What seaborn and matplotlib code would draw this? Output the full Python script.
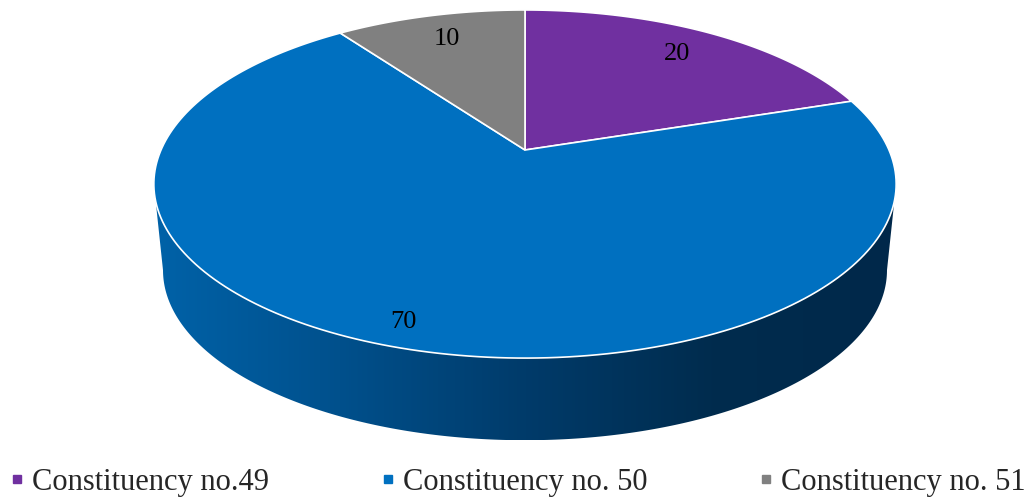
import numpy as np
import matplotlib
matplotlib.use("Agg")
import matplotlib.pyplot as plt
from matplotlib.patches import Polygon
from matplotlib.lines import Line2D
from matplotlib.colors import LinearSegmentedColormap
import seaborn as sns

# data
labels = ["Constituency no.49", "Constituency no. 50", "Constituency no. 51"]
values = [20, 70, 10]
colors = ["#7030A0", "#0070C0", "#808080"]

sns.set_style("white")
plt.rcParams["font.family"] = ["Liberation Serif", "DejaVu Serif"]

# 3d-ish pie geometry (pixel space)
CX, CY, A, B, K = 525, 150, 364, 167.4, 0.1955      # top face
CYb, Ab, Bb = 237, 355, 163.5                       # bottom face


def proj(X, Y, bottom=False):
    w = 1 + K * Y
    if bottom:
        return CX + Ab * X / w, CYb - Bb * Y / w
    return CX + A * X / w, CY - B * Y / w


fig = plt.figure(figsize=(10.35, 4.99), dpi=100)
ax = fig.add_axes([0, 0, 1, 1])

# side wall (front part), blue gradient
t0 = np.pi + np.arcsin(K)
t1 = 2 * np.pi - np.arcsin(K)
t = np.linspace(t0, t1, 300)
xt, yt = proj(np.cos(t), np.sin(t))
xb, yb = proj(np.cos(t), np.sin(t), bottom=True)
side = np.vstack([np.column_stack([xt, yt]), np.column_stack([xb, yb])[::-1]])
side_patch = Polygon(side, closed=True, facecolor="none", edgecolor="none")
ax.add_patch(side_patch)
cmap = LinearSegmentedColormap.from_list(
    "side", ["#0062a8", "#00508c", "#003b6a", "#002c4e", "#00284a"])
grad = np.linspace(0, 1, 256)[None, :]
im = ax.imshow(grad, extent=[side[:, 0].min(), side[:, 0].max(), side[:, 1].max(), side[:, 1].min()],
               cmap=cmap, aspect="auto", zorder=1)
im.set_clip_path(side_patch)

# top face wedges, clockwise from 12 o'clock
fracs = np.array(values) / sum(values)
starts = np.concatenate([[0], np.cumsum(fracs)[:-1]]) * 2 * np.pi
ends = np.cumsum(fracs) * 2 * np.pi
label_r = [0.8, 0.9, 0.8]
for s, e, c, v, r in zip(starts, ends, colors, values, label_r):
    th = np.linspace(s, e, 200)
    px, py = proj(np.sin(th), np.cos(th))
    pts = np.vstack([[CX, CY], np.column_stack([px, py])])
    ax.add_patch(Polygon(pts, closed=True, facecolor=c, edgecolor="white", lw=1.2, zorder=2))
    m = (s + e) / 2
    lx, ly = proj(r * np.sin(m), r * np.cos(m))
    ax.text(lx, ly, str(v), ha="center", va="center", fontsize=19, color="black", zorder=3)

ax.set_xlim(0, 1035)
ax.set_ylim(499, 0)
ax.axis("off")

handles = [Line2D([], [], marker="s", color=c, linestyle="", markersize=6) for c in colors]
fig.legend(handles, labels, loc="center left", bbox_to_anchor=(0.0092, 0.034), ncol=3, frameon=False,
           fontsize=22, handlelength=0.5, handletextpad=0.25, columnspacing=3.62,
           borderaxespad=0, borderpad=0)

fig.savefig("out.png", dpi=100)
